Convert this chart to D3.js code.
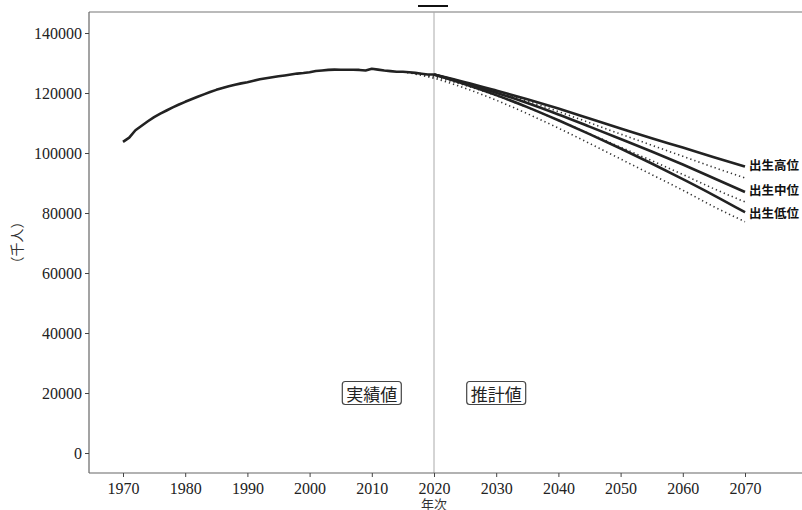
<!DOCTYPE html>
<html><head><meta charset="utf-8">
<script src="https://cdn.jsdelivr.net/npm/d3@7/dist/d3.min.js"></script>
<style>body{margin:0;background:#fff}</style>
</head><body>
<svg id="c" width="802" height="510"></svg>
<script>
const actualYears = d3.range(1970, 2021);
const actualValues = [103720,105145,107595,109104,110573,111940,113094,114165,115190,116155,
117060,117902,118728,119536,120305,121049,121660,122239,122745,123205,
123611,124101,124567,124938,125265,125570,125859,126157,126472,126667,
126926,127316,127486,127694,127787,127768,127770,127771,127692,127510,
128057,127799,127515,127298,127083,127095,126933,126706,126443,126167,126146];

const projYears = [2020,2025,2030,2035,2040,2045,2050,2055,2060,2065,2070];
const projHigh = [126146,123600,120800,117900,114800,111500,108200,104900,101800,98600,95490];
const projMedium = [126146,123262,120116,116639,112837,108801,104686,100508,96148,91587,86996];
const projLow = [126146,122900,119300,115300,110900,106300,101500,96500,91300,85900,80240];

const prevYears = [2015,2020,2025,2030,2035,2040,2045,2050,2055,2060,2065,2070];
const prevHigh = [127095,125800,123400,120500,117300,113800,110100,106300,102600,98900,95200,91700];
const prevMedium = [127095,125325,122544,119125,115216,110919,106421,101923,97441,92840,88077,83700];
const prevLow = [127095,124900,121600,117600,113100,108300,103200,98000,92800,87600,82100,77100];

const seriesLabels = ["出生高位","出生中位","出生低位"];
const xTicks = d3.range(1970, 2071, 10);
const yTicks = d3.range(0, 140001, 20000);

(function(){
const svg = d3.select("#c");
const pTop = 12, pBottom = 473, pLeft = 89, pRight = 802;
const x = d3.scaleLinear().domain([1970, 2070]).range([123, 745]);
const y = d3.scaleLinear().domain([0, 140000]).range([453, 33]);

const serif = "'Liberation Serif','DejaVu Serif',serif";
const cjk = "'Noto Sans CJK JP','Noto Sans CJK SC',sans-serif";

svg.append("line").attr("x1",pLeft).attr("x2",pRight).attr("y1",pTop).attr("y2",pTop)
  .attr("stroke","#777").attr("stroke-width",1.2);
svg.append("line").attr("x1",x(2020)).attr("x2",x(2020)).attr("y1",pTop).attr("y2",pBottom)
  .attr("stroke","#aaa").attr("stroke-width",1);

const gx = svg.append("g").attr("transform",`translate(0,${pBottom})`)
  .call(d3.axisBottom(x).tickValues(xTicks).tickFormat(d3.format("d")).tickSizeOuter(0).tickSize(4));
gx.select(".domain").attr("d",`M${pLeft},0H${pRight}`).attr("stroke","#666").attr("stroke-width",1.2);
gx.selectAll(".tick line").attr("stroke","#444");
gx.selectAll(".tick text").attr("font-family",serif).attr("font-size",16).attr("fill","#222").attr("dy","0.9em");

const gy = svg.append("g").attr("transform",`translate(${pLeft},0)`)
  .call(d3.axisLeft(y).tickValues(yTicks).tickFormat(d3.format("d")).tickSizeOuter(0).tickSize(4));
gy.select(".domain").attr("d",`M0,${pTop}V${pBottom}`).attr("stroke","#666").attr("stroke-width",1.2);
gy.selectAll(".tick line").attr("stroke","#444");
gy.selectAll(".tick text").attr("font-family",serif).attr("font-size",16).attr("fill","#222").attr("x",-7);

svg.append("text").attr("x",x(2020)).attr("y",508.5).attr("text-anchor","middle")
  .attr("font-family",cjk).attr("font-size",13).attr("fill","#333").text("年次");
svg.append("text").attr("transform",`translate(22,${(pTop+pBottom)/2}) rotate(-90)`)
  .attr("text-anchor","middle").attr("font-family",cjk).attr("font-size",14).attr("fill","#333").text("（千人）");

svg.append("line").attr("x1",418).attr("x2",448).attr("y1",6).attr("y2",6).attr("stroke","#111").attr("stroke-width",2);

const line = d3.line().x(d=>x(d[0])).y(d=>y(d[1])).curve(d3.curveMonotoneX);

[prevHigh, prevMedium, prevLow].forEach(vals=>{
  svg.append("path").datum(prevYears.map((yr,i)=>[yr, vals[i]])).attr("d",line)
    .attr("fill","none").attr("stroke","#333").attr("stroke-width",1.6).attr("stroke-dasharray","1.3,3");
});

svg.append("path").datum(actualYears.map((yr,i)=>[yr, actualValues[i]]))
  .attr("d",d3.line().x(d=>x(d[0])).y(d=>y(d[1])))
  .attr("fill","none").attr("stroke","#222").attr("stroke-width",2.6).attr("stroke-linejoin","round");

const projs = [projHigh, projMedium, projLow];
const labOffsets = [0, 0, 2];
projs.forEach((vals,k)=>{
  svg.append("path").datum(projYears.map((yr,i)=>[yr, vals[i]])).attr("d",line)
    .attr("fill","none").attr("stroke","#222").attr("stroke-width",2.6);
  svg.append("text").attr("x",x(2070)+4).attr("y",y(vals[vals.length-1])+labOffsets[k])
    .attr("dominant-baseline","middle").attr("font-family",cjk).attr("font-weight","bold")
    .attr("font-size",12.5).attr("fill","#111").text(seriesLabels[k]);
});

function boxLabel(xv, yv, txt){
  const g = svg.append("g");
  const t = g.append("text").attr("x",x(xv)).attr("y",y(yv)).attr("text-anchor","middle")
    .attr("dominant-baseline","central").attr("font-family",cjk).attr("font-size",17).attr("fill","#222").text(txt);
  const b = t.node().getBBox();
  g.insert("rect","text").attr("x",b.x-4).attr("y",y(yv)-11.5).attr("width",b.width+8).attr("height",23)
    .attr("rx",3).attr("fill","#fff").attr("stroke","#444").attr("stroke-width",1.2);
}
boxLabel(2010, 20000, "実績値");
boxLabel(2030, 20000, "推計値");
})();
</script>
</body></html>
